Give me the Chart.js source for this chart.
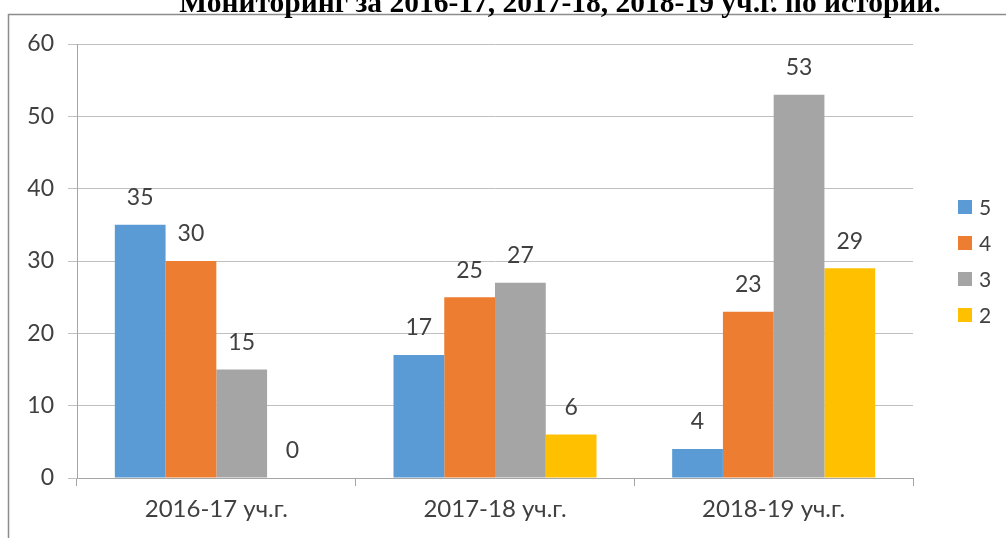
<!DOCTYPE html>
<html><head><meta charset="utf-8">
<script src="https://cdn.jsdelivr.net/npm/chart.js@4/dist/chart.umd.min.js"></script>
<style>html,body{margin:0;padding:0;background:#fff;overflow:hidden}#wrap{width:1006px;height:538px;position:relative}</style>
</head><body><div id="wrap"><canvas id="c" width="1006" height="538"></canvas></div>
<script>
const titleText = "Мониторинг за 2016-17, 2017-18, 2018-19 уч.г. по истории.";
const categories = ["2016-17 уч.г.", "2017-18 уч.г.", "2018-19 уч.г."];
const seriesNames = ["5", "4", "3", "2"];
const grade5 = [35, 17, 4];
const grade4 = [30, 25, 23];
const grade3 = [15, 27, 53];
const grade2 = [0, 6, 29];
const colors = ["#5B9BD5", "#ED7D31", "#A5A5A5", "#FFC000"];
const yTicks = [0, 10, 20, 30, 40, 50, 60];

const FONT = 'Lato, "Open Sans", sans-serif';

const extras = {
  id: 'extras',
  beforeDraw(chart) {
    const ctx = chart.ctx;
    ctx.save();
    ctx.fillStyle = '#fff';
    ctx.fillRect(0, 0, chart.width, chart.height);
    ctx.strokeStyle = '#8C8C8C';
    ctx.lineWidth = 1.5;
    ctx.strokeRect(8.5, 14.5, 2000, 2000);
    ctx.fillStyle = '#000';
    ctx.font = 'bold 29.5px "Liberation Serif", "Times New Roman", serif';
    ctx.textAlign = 'center';
    ctx.textBaseline = 'alphabetic';
    ctx.fillText(titleText, 560, 12);
    ctx.restore();
  },
  afterDatasetsDraw(chart) {
    const ctx = chart.ctx;
    ctx.save();
    ctx.font = '23px ' + FONT;
    ctx.fillStyle = '#404040';
    ctx.textAlign = 'center';
    ctx.textBaseline = 'middle';
    chart.data.datasets.forEach((ds, i) => {
      const meta = chart.getDatasetMeta(i);
      meta.data.forEach((el, j) => {
        ctx.fillText(String(ds.data[j]), el.x, el.y - 27);
      });
    });
    // legend
    ctx.font = '21px ' + FONT;
    ctx.textAlign = 'left';
    const cy = (chart.chartArea.top + chart.chartArea.bottom) / 2;
    const n = chart.data.datasets.length;
    chart.data.datasets.forEach((ds, i) => {
      const y = cy + (i - (n - 1) / 2) * 36;
      ctx.fillStyle = ds.backgroundColor;
      ctx.fillRect(958, y - 7, 14, 14);
      ctx.fillStyle = '#404040';
      ctx.fillText(ds.label, 979, y + 1);
    });
    ctx.restore();
  }
};

const datasets = [grade5, grade4, grade3, grade2].map((d, i) => ({
  label: seriesNames[i],
  data: d,
  backgroundColor: colors[i],
  borderWidth: 0,
  categoryPercentage: 0.7285,
  barPercentage: 1.0
}));

new Chart(document.getElementById('c'), {
  type: 'bar',
  data: { labels: categories, datasets },
  plugins: [extras],
  options: {
    responsive: false,
    animation: false,
    layout: { padding: { top: 44, right: 93, bottom: 0, left: 0 } },
    plugins: { legend: { display: false }, tooltip: { enabled: false }, title: { display: false } },
    scales: {
      x: {
        grid: { display: true, drawOnChartArea: false, drawTicks: true, tickLength: 8, offset: true, color: '#A6A6A6' },
        border: { display: true, color: '#A6A6A6', width: 1 },
        ticks: { font: { family: FONT, size: 24 }, color: '#404040', padding: 9 },
        afterFit(s) { s.height = 60; }
      },
      y: {
        min: 0, max: 60,
        afterBuildTicks(s) { s.ticks = yTicks.map(v => ({ value: v })); },
        grid: { color: '#BFBFBF', tickLength: 9, drawTicks: true, lineWidth: 1 },
        border: { display: true, color: '#A6A6A6', width: 1 },
        ticks: { font: { family: FONT, size: 23 }, color: '#404040', padding: 14 },
        afterFit(s) { s.width = 77; }
      }
    }
  }
});
</script></body></html>
